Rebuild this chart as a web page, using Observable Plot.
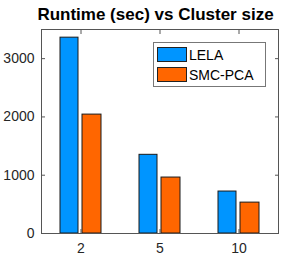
<!DOCTYPE html>
<html>
<head>
<meta charset="utf-8">
<script src="https://cdn.jsdelivr.net/npm/d3@7"></script>
<script src="https://cdn.jsdelivr.net/npm/@observablehq/plot@0.6"></script>
<style>
  html, body { margin: 0; padding: 0; background: #fff; }
  #wrap { position: relative; width: 307px; height: 262px; font-family: "Liberation Sans", Arial, sans-serif; }
  #title { height: 28px; line-height: 30px; text-align: center; font-weight: bold; font-size: 17px; color: #000; padding-left: 4px; box-sizing: border-box; white-space: nowrap; }
  #legend { position: absolute; left: 153px; top: 42px; width: 113px; height: 45px; box-sizing: border-box; border: 1px solid #777; background: #fff; }
  .item { position: absolute; left: 3px; height: 15px; display: flex; align-items: center; font-size: 14px; color: #000; }
  .sw { width: 30px; height: 15px; box-sizing: border-box; border: 1px solid #222; margin-right: 2px; }
</style>
</head>
<body>
<div id="wrap">
  <div id="title">Runtime (sec) vs Cluster size</div>
  <div id="chart"></div>
  <div id="legend"></div>
</div>
<script>
const sizes = ["2", "5", "10"];
const series = ["LELA", "SMC-PCA"];
const lelaRuntime = [3360, 1350, 720];
const smcRuntime = [2040, 960, 530];
const colors = ["#0095ff", "#ff6600"];
const yTicks = [0, 1000, 2000, 3000];

const data = [];
sizes.forEach((s, i) => {
  data.push({size: s, series: series[0], value: lelaRuntime[i]});
  data.push({size: s, series: series[1], value: smcRuntime[i]});
});

const axisColor = "#555";
const chart = Plot.plot({
  width: 307,
  height: 234,
  marginTop: 1,
  marginBottom: 29,
  marginLeft: 41,
  marginRight: 29,
  style: {fontFamily: "Liberation Sans, Arial, sans-serif", fontSize: "14px", color: "#262626", background: "#fff"},
  x: {domain: sizes, padding: 0, label: null},
  y: {domain: [0, 3500], label: null},
  color: {domain: series, range: colors},
  marks: [
    Plot.barY(data.filter(d => d.series === series[0]), {x: "size", y: "value", fill: "series", stroke: "#1a1a1a", strokeWidth: 1, insetLeft: 19, insetRight: 42}),
    Plot.barY(data.filter(d => d.series === series[1]), {x: "size", y: "value", fill: "series", stroke: "#1a1a1a", strokeWidth: 1, insetLeft: 41, insetRight: 19}),
    Plot.frame({stroke: axisColor, strokeWidth: 1}),
    Plot.axisY({ticks: yTicks, tickSize: -4, tickPadding: 11, stroke: axisColor, fill: "#262626", tickFormat: d => String(d)}),
    Plot.axisY({anchor: "right", ticks: yTicks, tickSize: -4, stroke: axisColor, tickFormat: () => ""}),
    Plot.axisX({tickSize: -4, tickPadding: 14, stroke: axisColor, fill: "#262626"}),
    Plot.axisX({anchor: "top", tickSize: -4, stroke: axisColor, tickFormat: () => ""})
  ]
});
document.getElementById("chart").appendChild(chart);

const legend = document.getElementById("legend");
series.forEach((s, i) => {
  const item = document.createElement("div");
  item.className = "item";
  item.style.top = (4 + i * 20) + "px";
  const sw = document.createElement("div");
  sw.className = "sw";
  sw.style.background = colors[i];
  const label = document.createElement("span");
  label.textContent = s;
  item.appendChild(sw);
  item.appendChild(label);
  legend.appendChild(item);
});
</script>
</body>
</html>
